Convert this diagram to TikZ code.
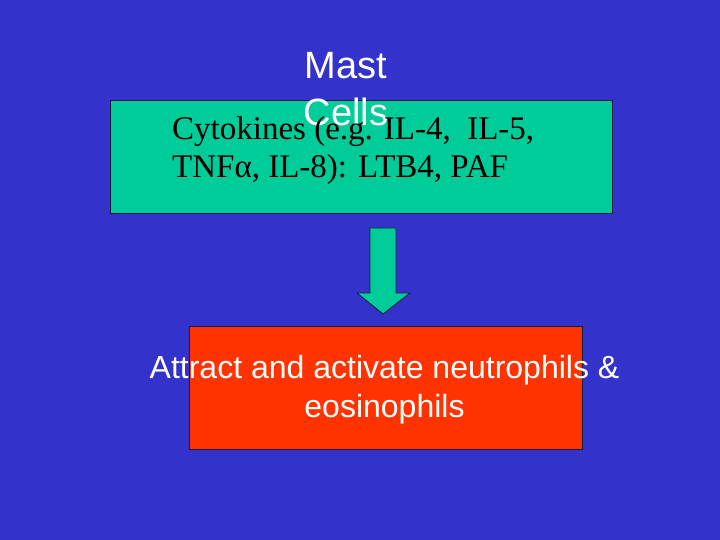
\documentclass[tikz,border=0pt]{standalone}
\usepackage{fontspec}
\setmainfont{Liberation Serif}
\setsansfont{Liberation Sans}
\usepackage{xcolor}
\definecolor{slide}{HTML}{3333CC}
\definecolor{mint}{HTML}{00CC99}
\definecolor{flame}{HTML}{FF3300}
\definecolor{edge}{HTML}{1A1A40}

\begin{document}
\begin{tikzpicture}[x=1pt, y=-1pt,
    box/.style={draw=edge, line width=0.8pt, inner sep=0pt, outer sep=0pt},
    every node/.style={inner sep=0pt}]
  \fill[slide] (0,0) rectangle (720,540);
  \useasboundingbox (0,0) rectangle (720,540);

  \node[box, fill=mint, minimum width=502pt, minimum height=113pt]
    (cyto) at (361,156.5) {};
  \node[box, fill=flame, minimum width=393pt, minimum height=123pt]
    (attract) at (385.5,387.5) {};

  % block arrow between the two boxes
  \draw[edge, fill=mint, line width=0.8pt, line join=miter]
    (370,228) -- (396,228) -- (396,293) -- (410,293) -- (383,314)
    -- (357,293) -- (370,293) -- cycle;

  \node[font=\sffamily\fontsize{38}{47}\selectfont, text=white, align=center]
    (title) at (346,89) {Mast\\Cells};
  \node[font=\fontsize{33}{38}\selectfont, align=left, anchor=north west]
    (cytotext) at (172,116) {Cytokines (e.g. IL-4,\ \ IL-5,\\TNFα, IL-8): LTB4, PAF};
  \node[font=\sffamily\fontsize{32}{39}\selectfont, text=white, align=center]
    (attracttext) at (384.5,390) {Attract and activate neutrophils \&\\eosinophils};
\end{tikzpicture}
\end{document}
